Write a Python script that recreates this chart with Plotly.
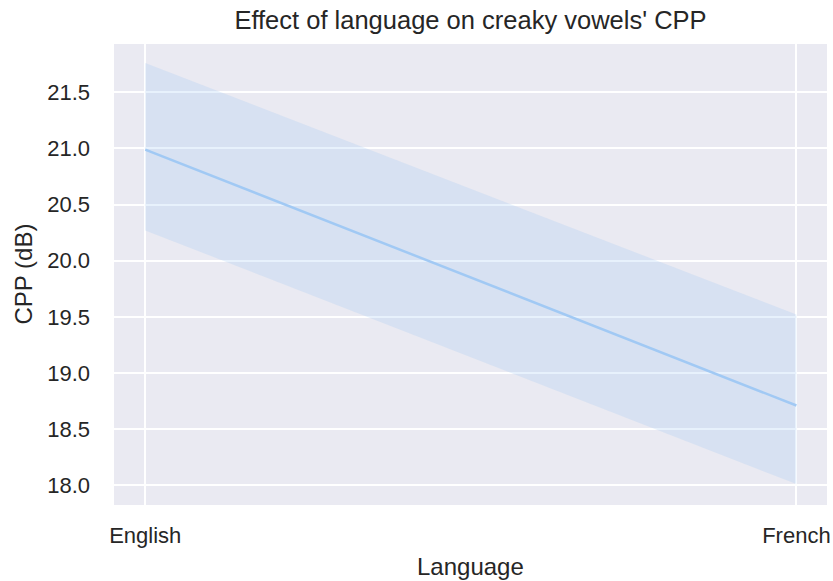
import plotly.graph_objects as go

languages = ["English", "French"]
cpp_mean = [20.99, 18.71]
ci_upper = [21.76, 19.52]
ci_lower = [20.27, 18.01]
y_ticks = [18.0, 18.5, 19.0, 19.5, 20.0, 20.5, 21.0, 21.5]

line_color = "#a1c9f4"
band_color = "rgba(161,201,244,0.25)"
x_idx = list(range(len(languages)))

fig = go.Figure()
fig.add_trace(go.Scatter(
    x=x_idx + x_idx[::-1],
    y=ci_upper + ci_lower[::-1],
    fill="toself", fillcolor=band_color,
    line=dict(width=0), mode="lines", hoverinfo="skip", showlegend=False,
))
fig.add_trace(go.Scatter(
    x=x_idx, y=cpp_mean, mode="lines",
    line=dict(color=line_color, width=2.5), showlegend=False,
))

font = "Liberation Sans, Arial, sans-serif"
L, R, T, B = 114, 6, 44, 76
fig.update_layout(
    width=833, height=581,
    margin=dict(l=L, r=R, t=T, b=B),
    paper_bgcolor="white", plot_bgcolor="#eaeaf2",
    font=dict(family=font, size=22, color="#262626"),
    title=dict(text="Effect of language on creaky vowels' CPP", x=0.5, xref="paper",
               y=1 - 20 / 581, yanchor="middle", font=dict(size=25.5, color="#262626")),
    xaxis=dict(
        tickmode="array", tickvals=x_idx, ticktext=languages,
        range=[-0.048, 1.047], showgrid=True, gridcolor="white", gridwidth=1.5,
        zeroline=False, showline=False, ticks="", automargin=False,
        ticklabelstandoff=15, tickfont=dict(size=22),
    ),
    yaxis=dict(
        tickmode="array", tickvals=y_ticks, tickformat=".1f",
        range=[17.824, 21.93], showgrid=True, gridcolor="white", gridwidth=1.5,
        zeroline=False, showline=False, ticks="", automargin=False,
        ticklabelstandoff=23, tickfont=dict(size=22),
    ),
    annotations=[
        dict(text="Language", xref="paper", yref="paper", x=0.5, y=-(567 - 505.5) / 461.5,
             xanchor="center", yanchor="middle", showarrow=False, font=dict(size=24)),
        dict(text="CPP (dB)", xref="paper", yref="paper", x=-(114 - 23) / 713, y=0.5,
             xanchor="center", yanchor="middle", textangle=-90, showarrow=False,
             font=dict(size=24)),
    ],
)
fig.write_html("out.html", config={"displayModeBar": False},
               post_script="document.body.style.margin='0';document.body.style.overflow='hidden';")
